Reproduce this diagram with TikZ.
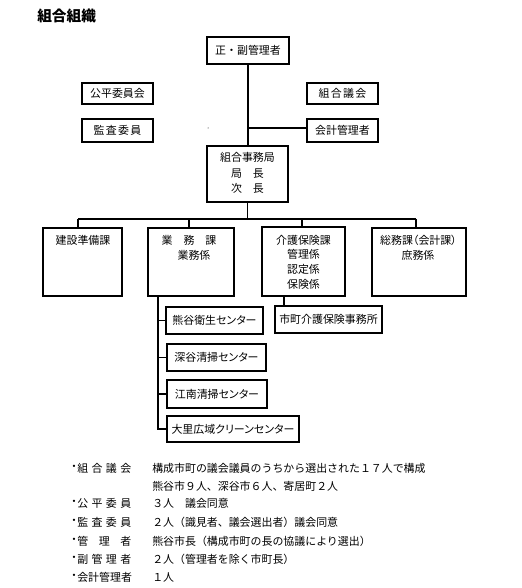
\documentclass[tikz,border=0pt]{standalone}
\usepackage{fontspec}
\setmainfont{Noto Sans CJK JP}
\newfontfamily\pfont{Noto Sans CJK JP}[RawFeature=+palt]
\usetikzlibrary{fit}
\newcommand\sprd[1]{\makebox[40.5pt][s]{#1}}
\begin{document}
\begin{tikzpicture}[x=0.75pt,y=-0.75pt,
  box/.style={draw, line width=0.8pt, inner sep=0pt, font=\fontsize{8.2}{11}\selectfont},
  sz/.style 2 args={minimum width={#1*0.75pt}, minimum height={#2*0.75pt}},
  lbl/.style={inner sep=0pt, font=\fontsize{8.2}{11}\selectfont, align=center},
  note/.style={inner sep=0pt, anchor=west, font=\fontsize{8.2}{10}\selectfont},
  conn/.style={line width=0.8pt}]
\useasboundingbox (0,0) rectangle (521,588);

% title
\node[anchor=west, inner sep=0pt, font=\fontsize{11}{13}\selectfont\bfseries] (title) at (37,16) {組合組織};

% top level
\node[box, sz={82}{27}] (mgr) at (248,50.5) {正・副管理者};
\node[box, sz={71}{21}] (kohei) at (117.5,93.5) {公平委員会};
\node[box, sz={71}{23}] (kansa) at (117.5,130.5) {監\kern1pt 査\kern1pt 委\kern1pt 員};
\node[box, sz={71}{21}] (gikai) at (342.5,93.5) {組\kern1pt 合\kern1pt 議\kern1pt 会};
\node[box, sz={71}{23}] (kaikei) at (342.5,130.5) {会計管理者};
\node[box, sz={81}{56}] (jim) at (247.5,174) {};
\node[lbl, font=\fontsize{8.2}{11.6}\selectfont] (jimT) at (247.5,173) {組合事務局\\局　長\\次　長};
\fill (208,128) circle (0.5);

% sections
\node[box, fit={(43,228)(122,296)}] (kensetsu) {};
\node[lbl] (kensetsuT) at (83,240) {建設準備課};
\node[box, fit={(148,228)(234,296)}] (gyomu) {};
\node[lbl] (gyomuT1) at (189,240) {業　務　課};
\node[lbl] (gyomuT2) at (194,255) {業務係};
\node[box, fit={(262,227)(345,296)}] (kaigo) {};
\node[lbl] (kaigoT) at (303.5,262) {介護保険課\\管理係\\認定係\\保険係};
\node[box, fit={(372,228)(466,296)}] (somu) {};
\node[lbl, font=\fontsize{8.2}{11}\pfont] (somuT1) at (418.5,240) {総務課（会計課）};
\node[lbl] (somuT2) at (418,255) {庶務係};

% sub units
\node[box, sz={97}{27}, font=\fontsize{8.2}{11}\pfont] (kumagaya) at (214.5,320.5) {熊谷衛生センター};
\node[box, sz={99}{27}, font=\fontsize{8.2}{11}\pfont] (fukaya) at (216.5,357.5) {深谷清掃センター};
\node[box, sz={100}{28}, font=\fontsize{8.2}{11}\pfont] (konan) at (217,394) {江南清掃センター};
\node[box, sz={132}{26}, font=\fontsize{8.2}{11}\pfont] (oosato) at (233,429) {大里広域クリーンセンター};
\node[box, sz={107}{27}] (shicho) at (328.5,319.5) {市町介護保険事務所};

% connectors
\coordinate (busL) at (78,219);
\coordinate (bus2) at (189,219);
\coordinate (bus3) at (302,219);
\coordinate (busR) at (416,219);
\coordinate (tr) at (158,300);
\coordinate (kj) at (284,300);
\coordinate (kk) at (300,128);

\draw[conn] (mgr.south) -- (mgr.south |- jim.north);
\draw[conn] (mgr.south |- kk) -- (kaikei.west |- kk);
\draw[conn] (jim.south) -- (jim.south |- busL);
\draw[conn] (busL) -- (busR);
\draw[conn] (busL) -- (busL |- kensetsu.north);
\draw[conn] (bus2) -- (bus2 |- gyomu.north);
\draw[conn] (bus3) -- (bus3 |- kaigo.north);
\draw[conn] (busR) -- (busR |- somu.north);
\draw[conn] (gyomu.south -| tr) -- (tr |- oosato.west) -- (oosato.west);
\draw[conn] (tr |- kumagaya.west) -- (kumagaya.west);
\draw[conn] (tr |- fukaya.west) -- (fukaya.west);
\draw[conn] (tr |- konan.west) -- (konan.west);
\draw[conn] (kaigo.south -| kj) -- (kj |- shicho.north);

% notes
\foreach \yy/\nm/\lab in {468/n1/{\sprd{組\hfill{}合\hfill{}議\hfill{}会}},
                          503/n2/{\sprd{公\hfill{}平\hfill{}委\hfill{}員}},
                          522/n3/{\sprd{監\hfill{}査\hfill{}委\hfill{}員}},
                          541/n4/{\sprd{管\hfill{}理\hfill{}者}},
                          559/n5/{\sprd{副\hfill{}管\hfill{}理\hfill{}者}},
                          577/n6/{会計管理者}} {
  \node[note, anchor=center] (b\nm) at (74,\yy) {・};
  \node[note] (l\nm) at (77,\yy) {\lab};
}
\node[note] (d1) at (152,468) {構成市町の議会議員のうちから選出された１７人で構成};
\node[note] (d1b) at (152,486) {熊谷市９人、深谷市６人、寄居町２人};
\node[note] (d2) at (152,503) {３人　議会同意};
\node[note] (d3) at (152,522) {２人（識見者、議会選出者）議会同意};
\node[note] (d4) at (152,541) {熊谷市長（構成市町の長の協議により選出）};
\node[note] (d5) at (152,559) {２人（管理者を除く市町長）};
\node[note] (d6) at (152,577) {１人};
\end{tikzpicture}
\end{document}
